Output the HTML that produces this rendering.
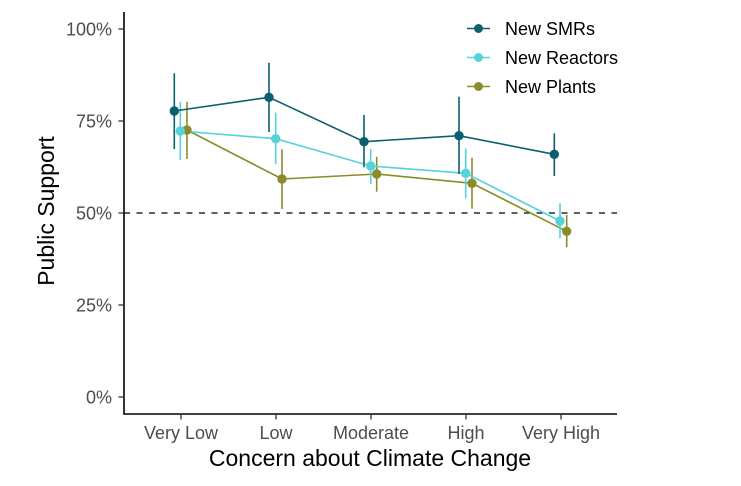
<!DOCTYPE html>
<html><head><meta charset="utf-8"><style>
html,body{margin:0;padding:0;background:#fff;}
svg{display:block;}
text{font-family:"Liberation Sans",Arial,sans-serif;}
</style></head><body>
<svg width="741" height="486" viewBox="0 0 741 486" xmlns="http://www.w3.org/2000/svg">
<rect width="741" height="486" fill="#fff"/>
<!-- dashed 50% line -->
<line x1="124" y1="213" x2="617" y2="213" stroke="#000" stroke-width="1.3" stroke-dasharray="6,6.5"/>
<!-- axes -->
<line x1="124" y1="12" x2="124" y2="414.5" stroke="#000" stroke-width="1.6"/>
<line x1="123.2" y1="414" x2="617" y2="414" stroke="#000" stroke-width="1.6"/>
<!-- ticks -->
<g stroke="#333" stroke-width="1.3">
<line x1="118.5" y1="29" x2="124" y2="29"/>
<line x1="118.5" y1="121" x2="124" y2="121"/>
<line x1="118.5" y1="213" x2="124" y2="213"/>
<line x1="118.5" y1="305" x2="124" y2="305"/>
<line x1="118.5" y1="397" x2="124" y2="397"/>
<line x1="181" y1="414" x2="181" y2="419.5"/>
<line x1="276" y1="414" x2="276" y2="419.5"/>
<line x1="371" y1="414" x2="371" y2="419.5"/>
<line x1="466" y1="414" x2="466" y2="419.5"/>
<line x1="561" y1="414" x2="561" y2="419.5"/>
</g>
<g fill="#4d4d4d" font-size="18" text-anchor="end">
<text x="112" y="35.5">100%</text>
<text x="112" y="127.5">75%</text>
<text x="112" y="219.5">50%</text>
<text x="112" y="311.5">25%</text>
<text x="112" y="403.5">0%</text>
</g>
<g fill="#4d4d4d" font-size="18" text-anchor="middle">
<text x="181" y="439">Very Low</text>
<text x="276" y="439">Low</text>
<text x="371" y="439">Moderate</text>
<text x="466" y="439">High</text>
<text x="561" y="439">Very High</text>
</g>
<text x="370" y="466" font-size="23" text-anchor="middle" fill="#000">Concern about Climate Change</text>
<text transform="translate(54,211) rotate(-90)" font-size="23" text-anchor="middle" fill="#000">Public Support</text>

<!-- New Plants (olive) -->
<g stroke="#8b8b2b" stroke-width="1.6" fill="#8b8b2b">
<line x1="187" y1="101.7" x2="187" y2="159"/>
<line x1="282" y1="149.3" x2="282" y2="209"/>
<line x1="376.7" y1="156.7" x2="376.7" y2="191.7"/>
<line x1="472" y1="157.7" x2="472" y2="208.7"/>
<line x1="566.7" y1="215" x2="566.7" y2="247.3"/>
<polyline fill="none" points="187,130 282,179 376.7,174 472,183.3 566.7,231.3"/>
</g>
<!-- New Reactors (cyan) -->
<g stroke="#56d2db" stroke-width="1.6" fill="#56d2db">
<line x1="180.3" y1="101.7" x2="180.3" y2="160"/>
<line x1="275.7" y1="112.7" x2="275.7" y2="164"/>
<line x1="370.7" y1="149" x2="370.7" y2="184"/>
<line x1="465.7" y1="148.3" x2="465.7" y2="198.3"/>
<line x1="560" y1="203.3" x2="560" y2="238.3"/>
<polyline fill="none" points="180.3,131 275.7,138.7 370.7,166 465.7,173.3 560,221"/>
</g>
<!-- New SMRs (dark teal) -->
<g stroke="#0b5f6f" stroke-width="1.6" fill="#0b5f6f">
<line x1="174.3" y1="73.3" x2="174.3" y2="149"/>
<line x1="269" y1="62.7" x2="269" y2="132"/>
<line x1="364" y1="115" x2="364" y2="167.3"/>
<line x1="459" y1="96.7" x2="459" y2="174"/>
<line x1="554.3" y1="133.3" x2="554.3" y2="176"/>
<polyline fill="none" points="174.3,111 269,97.3 364,141.7 459,135.7 554.3,154.3"/>
</g>
<!-- points -->
<g fill="#8b8b2b">
<circle cx="187" cy="130" r="4.7"/><circle cx="282" cy="179" r="4.7"/><circle cx="376.7" cy="174" r="4.7"/><circle cx="472" cy="183.3" r="4.7"/><circle cx="566.7" cy="231.3" r="4.7"/>
</g>
<g fill="#56d2db">
<circle cx="180.3" cy="131" r="4.7"/><circle cx="275.7" cy="138.7" r="4.7"/><circle cx="370.7" cy="166" r="4.7"/><circle cx="465.7" cy="173.3" r="4.7"/><circle cx="560" cy="221" r="4.7"/>
</g>
<g fill="#0b5f6f">
<circle cx="174.3" cy="111" r="4.7"/><circle cx="269" cy="97.3" r="4.7"/><circle cx="364" cy="141.7" r="4.7"/><circle cx="459" cy="135.7" r="4.7"/><circle cx="554.3" cy="154.3" r="4.7"/>
</g>

<!-- legend -->
<g stroke-width="1.6">
<line x1="467" y1="28.5" x2="490" y2="28.5" stroke="#0b5f6f"/>
<circle cx="478.5" cy="28.5" r="4.5" fill="#0b5f6f"/>
<line x1="467" y1="57.5" x2="490" y2="57.5" stroke="#56d2db"/>
<circle cx="478.5" cy="57.5" r="4.5" fill="#56d2db"/>
<line x1="467" y1="86.5" x2="490" y2="86.5" stroke="#8b8b2b"/>
<circle cx="478.5" cy="86.5" r="4.5" fill="#8b8b2b"/>
</g>
<g font-size="18" fill="#000">
<text x="505" y="35">New SMRs</text>
<text x="505" y="64">New Reactors</text>
<text x="505" y="93">New Plants</text>
</g>
</svg>
</body></html>
